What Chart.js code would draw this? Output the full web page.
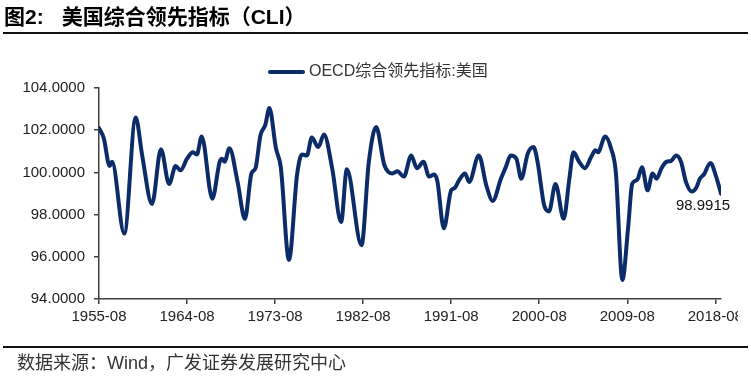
<!DOCTYPE html>
<html>
<head>
<meta charset="utf-8">
<script src="https://cdn.jsdelivr.net/npm/chart.js@4"></script>
<style>
  body { margin: 0; width: 751px; height: 377px; background: #fff; position: relative; overflow: hidden;
         font-family: "Liberation Sans", "Noto Sans CJK SC", sans-serif; }
  #title { position: absolute; left: 4px; top: 4px; font-size: 21px; line-height: 26px; font-weight: bold; color: #000; white-space: nowrap; }
  .rule { position: absolute; left: 3px; width: 745px; height: 2px; background: #111; }
  #legend { position: absolute; left: 268px; top: 57px; font-size: 16px; color: #333; white-space: nowrap; }
  #legend i { display: inline-block; width: 37px; height: 4px; background: #0c2b69; vertical-align: middle; margin-right: 4px; border-radius: 2px; }
  #source { position: absolute; left: 17px; top: 352px; font-size: 18px; line-height: 22px; color: #333; white-space: nowrap; }
  #wrap { position: absolute; left: 0; top: 0; width: 738px; height: 377px; overflow: hidden; }
</style>
</head>
<body>
<div id="wrap"><canvas id="cli" width="751" height="377"></canvas></div>
<div id="title">图2:<span style="margin-left:18px">美国综合领先指标（CLI）</span></div>
<div class="rule" style="top:32px"></div>
<div id="legend"><i></i>OECD综合领先指标:美国</div>
<div class="rule" style="top:346px"></div>
<div id="source">数据来源：Wind，广发证券发展研究中心</div>
<script>
// 数据（按图读取的拐点）
const seriesName = 'OECD综合领先指标:美国';
const dates = [
  '1955-08', '1956-02', '1956-09', '1956-12', '1958-03', '1959-05', '1960-01', '1961-01',
  '1961-12', '1962-10', '1963-06', '1963-12', '1964-08', '1965-03', '1965-08', '1966-02',
  '1967-03', '1967-12', '1968-03', '1968-06', '1968-12', '1969-10', '1970-07', '1971-03',
  '1971-08', '1972-02', '1972-08', '1973-01', '1973-09', '1974-03', '1975-01', '1975-11',
  '1976-05', '1976-11', '1977-05', '1978-01', '1978-08', '1979-06', '1980-05', '1980-12',
  '1982-06', '1983-03', '1983-12', '1984-10', '1985-08', '1986-02', '1986-10', '1987-07',
  '1988-02', '1988-10', '1989-05', '1989-11', '1990-03', '1990-11', '1991-08', '1991-12',
  '1992-06', '1993-01', '1993-06', '1994-06', '1995-03', '1995-11', '1996-09', '1997-03',
  '1997-09', '1998-04', '1998-10', '1999-06', '2000-01', '2000-06', '2001-02', '2001-08',
  '2002-04', '2003-02', '2003-09', '2004-02', '2004-09', '2005-04', '2005-12', '2006-05',
  '2006-08', '2007-05', '2007-12', '2008-06', '2009-02', '2009-09', '2010-02', '2010-06',
  '2010-09', '2011-02', '2011-09', '2012-03', '2012-08', '2013-02', '2013-08', '2014-02',
  '2014-08', '2015-02', '2015-08', '2016-03', '2016-09', '2017-01', '2017-06', '2018-02',
  '2018-09', '2019-03'
];
const values = [
  102.1, 101.6, 100.3, 100.5, 97.1, 102.6, 100.8, 98.5,
  101.1, 99.45, 100.3, 100.1, 100.65, 100.95, 100.85, 101.7,
  98.75, 100.5, 100.65, 100.5, 101.15, 99.55, 97.8, 99.95,
  100.2, 101.75, 102.25, 103.05, 101.15, 100.25, 95.85, 99.9,
  100.85, 100.8, 101.65, 101.2, 101.8, 100.2, 97.65, 100.15,
  96.55, 100.5, 102.15, 100.35, 99.95, 100.05, 99.8, 100.8,
  100.2, 100.5, 99.8, 99.9, 99.6, 97.35, 99.15, 99.25,
  99.65, 99.95, 99.55, 100.8, 99.4, 98.65, 99.7, 100.25,
  100.8, 100.65, 99.7, 100.9, 101.2, 100.5, 98.45, 98.15,
  99.45, 97.8, 99.7, 100.95, 100.5, 100.2, 100.75, 101.05,
  100.95, 101.7, 101.15, 100.0, 94.9, 97.35, 99.45, 99.6,
  99.7, 100.25, 99.15, 99.95, 99.7, 100.2, 100.5, 100.55,
  100.8, 100.5, 99.55, 99.1, 99.3, 99.7, 99.9, 100.45,
  99.8, 98.9915
];
const tickLabels = ['1955-08', '1964-08', '1973-08', '1982-08', '1991-08', '2000-08', '2009-08', '2018-08'];
const yTicks = [94, 96, 98, 100, 102, 104];

const lineColor = '#0c2b69';
const axisColor = '#404040';
const tickFont = { family: '"Liberation Sans", Arial, sans-serif', size: 15 };

// 把 "YYYY-MM" 转成从 1955-08 起算的月数
function monthIndex(s) {
  const [y, m] = s.split('-').map(Number);
  return (y - 1955) * 12 + (m - 8);
}
function monthLabel(v) {
  const t = v + 7;
  const y = 1955 + Math.floor(t / 12);
  const m = (t % 12) + 1;
  return y + '-' + String(m).padStart(2, '0');
}

const points = dates.map((d, i) => ({ x: monthIndex(d), y: values[i] }));

// 最后一个点的数值标注
const lastLabel = {
  id: 'lastLabel',
  afterDatasetsDraw(chart) {
    const meta = chart.getDatasetMeta(0);
    const pt = meta.data[meta.data.length - 1];
    const ctx = chart.ctx;
    ctx.save();
    ctx.font = '15px "Liberation Sans", Arial, sans-serif';
    ctx.fillStyle = '#111';
    ctx.textAlign = 'center';
    ctx.textBaseline = 'middle';
    ctx.fillText(values[values.length - 1].toFixed(4), pt.x - 18, pt.y + 12);
    ctx.restore();
  }
};

new Chart(document.getElementById('cli'), {
  type: 'line',
  data: {
    datasets: [{
      label: seriesName,
      data: points,
      borderColor: lineColor,
      backgroundColor: lineColor,
      borderWidth: 4,
      pointRadius: 0,
      cubicInterpolationMode: 'monotone',
      borderCapStyle: 'round',
      borderJoinStyle: 'round'
    }]
  },
  options: {
    responsive: false,
    animation: false,
    layout: { padding: { left: 10, right: 30, top: 88, bottom: 48 } },
    plugins: {
      legend: { display: false },
      title: { display: false },
      tooltip: { enabled: false }
    },
    scales: {
      x: {
        type: 'linear',
        min: 0,
        max: monthIndex(dates[dates.length - 1]),
        afterBuildTicks: s => { s.ticks = tickLabels.map(l => ({ value: monthIndex(l) })); },
        afterFit: s => { s.height = 30; },
        border: { display: true, color: axisColor, width: 1.5 },
        grid: { drawOnChartArea: false, drawTicks: true, tickLength: 5, color: axisColor, lineWidth: 1.5 },
        ticks: { callback: v => monthLabel(v), font: tickFont, color: '#222', padding: 4, maxRotation: 0, autoSkip: false }
      },
      y: {
        min: 94,
        max: 104,
        afterBuildTicks: s => { s.ticks = yTicks.map(v => ({ value: v })); },
        afterFit: s => { s.width = 89; },
        border: { display: true, color: axisColor, width: 1.5 },
        grid: { drawOnChartArea: false, drawTicks: true, tickLength: 5, color: axisColor, lineWidth: 1.5 },
        ticks: { callback: v => v.toFixed(4), font: tickFont, color: '#222', padding: 9 }
      }
    }
  },
  plugins: [lastLabel]
});
</script>
</body>
</html>
